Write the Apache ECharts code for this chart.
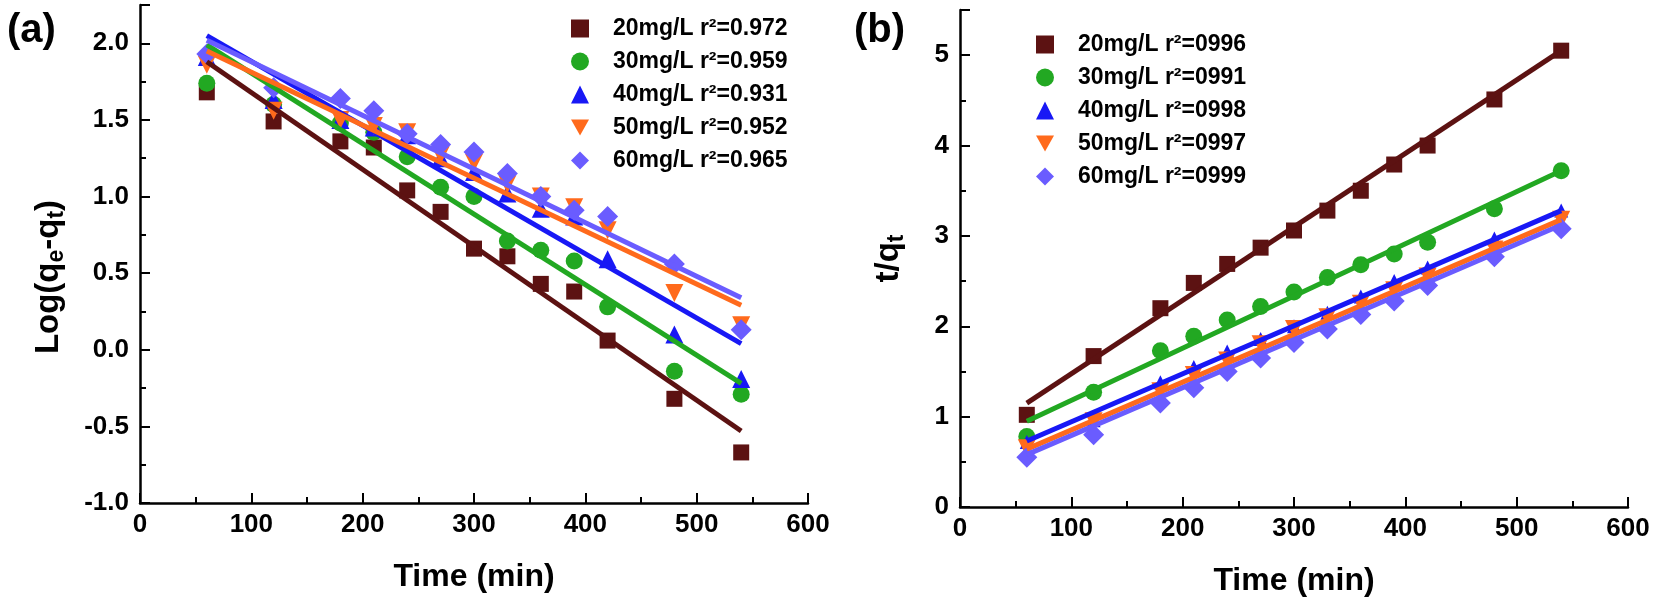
<!DOCTYPE html>
<html>
<head>
<meta charset="utf-8">
<script src="https://cdn.jsdelivr.net/npm/echarts@6/dist/echarts.min.js"></script>
<style>
  html, body { margin: 0; padding: 0; background: #fff; }
  #chart { width: 1654px; height: 605px; }
</style>
</head>
<body>
<div id="chart"></div>
<script>
// temps de contact (min)
const temps = [60, 120, 180, 210, 240, 270, 300, 330, 360, 390, 420, 480, 540];
const concentrations = ['20mg/L', '30mg/L', '40mg/L', '50mg/L', '60mg/L'];
const r2_a = ['0.972', '0.959', '0.931', '0.952', '0.965'];
const r2_b = ['0996', '0991', '0998', '0997', '0999'];

// (a) pseudo-first-order : Log(qe-qt)
const a_20 = [1.68, 1.49, 1.36, 1.32, 1.04, 0.90, 0.66, 0.61, 0.43, 0.38, 0.06, -0.32, -0.67];
const a_30 = [1.74, 1.60, 1.48, 1.42, 1.26, 1.06, 1.00, 0.71, 0.65, 0.58, 0.28, -0.14, -0.29];
const a_40 = [1.91, 1.63, 1.50, 1.45, 1.40, 1.25, 1.16, 1.02, 0.92, 0.87, 0.59, 0.10, -0.19];
const a_50 = [1.86, 1.56, 1.50, 1.46, 1.42, 1.27, 1.22, 1.08, 1.00, 0.93, 0.78, 0.37, 0.16];
const a_60 = [1.93, 1.71, 1.64, 1.56, 1.41, 1.34, 1.29, 1.15, 1.00, 0.91, 0.87, 0.56, 0.13];

// (b) pseudo-second-order : t/qt
const b_20 = [1.02, 1.67, 2.20, 2.48, 2.69, 2.87, 3.06, 3.28, 3.50, 3.79, 4.00, 4.51, 5.05];
const b_30 = [0.78, 1.27, 1.73, 1.89, 2.07, 2.22, 2.38, 2.54, 2.68, 2.80, 2.93, 3.30, 3.72];
const b_40 = [0.72, 0.96, 1.38, 1.55, 1.72, 1.86, 2.00, 2.15, 2.33, 2.50, 2.65, 2.97, 3.28];
const b_50 = [0.65, 0.95, 1.28, 1.46, 1.62, 1.80, 1.97, 2.10, 2.25, 2.40, 2.55, 2.85, 3.18];
const b_60 = [0.55, 0.80, 1.15, 1.32, 1.50, 1.65, 1.82, 1.97, 2.13, 2.28, 2.45, 2.77, 3.08];

// droites de regression (valeurs a t=60 et t=540)
const fitTemps = [60, 540];
const fit_a = [[1.88, -0.53], [1.99, -0.22], [2.05, 0.04], [1.95, 0.29], [2.02, 0.34]];
const fit_b = [[1.15, 5.05], [0.95, 3.72], [0.73, 3.28], [0.64, 3.18], [0.58, 3.12]];

const couleurs = ['#5c1212', '#22a822', '#1818f5', '#ff6a1c', '#6a5cff'];
const symboles = ['rect', 'circle', 'triangle', 'path://M0,0 L10,0 L5,9 Z', 'diamond'];
const tailles_a = [16, 17, 18, 18, 21];
const tailles_b = [16, 17, 14, 18, 21];

const police = "'Liberation Sans', Arial, sans-serif";
const donnees_a = [a_20, a_30, a_40, a_50, a_60];
const donnees_b = [b_20, b_30, b_40, b_50, b_60];

function axeX(idx) {
    return {
        type: 'value', gridIndex: idx, min: 0, max: 600, interval: 100,
        name: 'Time (min)', nameLocation: 'middle', nameGap: 58,
        nameTextStyle: { fontFamily: police, fontWeight: 'bold', fontSize: 32, color: '#000' },
        axisLine: { onZero: false, lineStyle: { color: '#000', width: 2.5 } },
        axisTick: { inside: true, length: 10, lineStyle: { color: '#000', width: 2 } },
        minorTick: { show: true, splitNumber: 2, length: 6, lineStyle: { color: '#000', width: 2 } },
        axisLabel: { fontFamily: police, fontWeight: 'bold', fontSize: 26, color: '#000', margin: 9 },
        splitLine: { show: false }
    };
}

function axeY(idx, min, max, interval, decimales, nom, gap, rich, padding) {
    return {
        type: 'value', gridIndex: idx, min: min, max: max, interval: interval,
        name: nom, nameLocation: 'middle', nameGap: gap,
        nameTextStyle: { fontFamily: police, fontWeight: 'bold', fontSize: 33, color: '#000', rich: rich, padding: padding },
        axisLine: { show: true, onZero: false, lineStyle: { color: '#000', width: 2.5 } },
        axisTick: { inside: true, length: 10, lineStyle: { color: '#000', width: 2 } },
        minorTick: { show: true, splitNumber: 2, length: 6, lineStyle: { color: '#000', width: 2 } },
        axisLabel: {
            fontFamily: police, fontWeight: 'bold', fontSize: 26, color: '#000', margin: 11,
            showMaxLabel: false,
            formatter: v => v.toFixed(decimales)
        },
        splitLine: { show: false }
    };
}

const sub = { fontFamily: police, fontWeight: 'bold', fontSize: 23, color: '#000', padding: [16, 0, 0, 0] };

let series = [];
concentrations.forEach((c, i) => {
    series.push({
        name: c + ' r²=' + r2_a[i], type: 'scatter', xAxisIndex: 0, yAxisIndex: 0,
        symbol: symboles[i], symbolSize: tailles_a[i],
        itemStyle: { color: couleurs[i], opacity: 1 },
        data: temps.map((t, j) => [t, donnees_a[i][j]]), z: 2
    });
    series.push({
        name: c + ' r²=' + r2_b[i], type: 'scatter', xAxisIndex: 1, yAxisIndex: 1,
        symbol: symboles[i], symbolSize: tailles_b[i],
        itemStyle: { color: couleurs[i], opacity: 1 },
        data: temps.map((t, j) => [t, donnees_b[i][j]]), z: 2
    });
});
concentrations.forEach((c, i) => {
    series.push({
        type: 'line', xAxisIndex: 0, yAxisIndex: 0, symbol: 'none', silent: true,
        lineStyle: { color: couleurs[i], width: 5 },
        data: fitTemps.map((t, j) => [t, fit_a[i][j]]), z: 3
    });
    series.push({
        type: 'line', xAxisIndex: 1, yAxisIndex: 1, symbol: 'none', silent: true,
        lineStyle: { color: couleurs[i], width: 5 },
        data: fitTemps.map((t, j) => [t, fit_b[i][j]]), z: 3
    });
});

const legende = (noms, left, top) => ({
    data: noms, orient: 'vertical', left: left, top: top,
    itemWidth: 18, itemHeight: 18, itemGap: 10,
    textStyle: { fontFamily: police, fontWeight: 'bold', fontSize: 23, color: '#000', padding: [0, 0, 0, 19] }
});

const myChart = echarts.init(document.getElementById('chart'), null, { renderer: 'canvas' });
myChart.setOption({
    animation: false,
    backgroundColor: '#fff',
    title: [
        { text: '(a)', left: 2, top: 6, textStyle: { fontFamily: police, fontWeight: 'bold', fontSize: 40, color: '#000' } },
        { text: '(b)', left: 849, top: 6, textStyle: { fontFamily: police, fontWeight: 'bold', fontSize: 40, color: '#000' } }
    ],
    legend: [
        legende(concentrations.map((c, i) => c + ' r²=' + r2_a[i]), 566, 12),
        legende(concentrations.map((c, i) => c + ' r²=' + r2_b[i]), 1031, 28)
    ],
    grid: [
        { left: 140, top: 5, width: 668, height: 498 },
        { left: 960, top: 10, width: 668, height: 497 }
    ],
    xAxis: [axeX(0), axeX(1)],
    yAxis: [
        axeY(0, -1, 2.25, 0.5, 1, 'Log(q{s|e}-q{s|t})', 72, { s: sub }, [0, 46, 0, 0]),
        axeY(1, 0, 5.5, 1, 0, 't/q{s|t}', 52, { s: sub }, [0, 0, 0, 0])
    ],
    series: series
});
</script>
</body>
</html>
